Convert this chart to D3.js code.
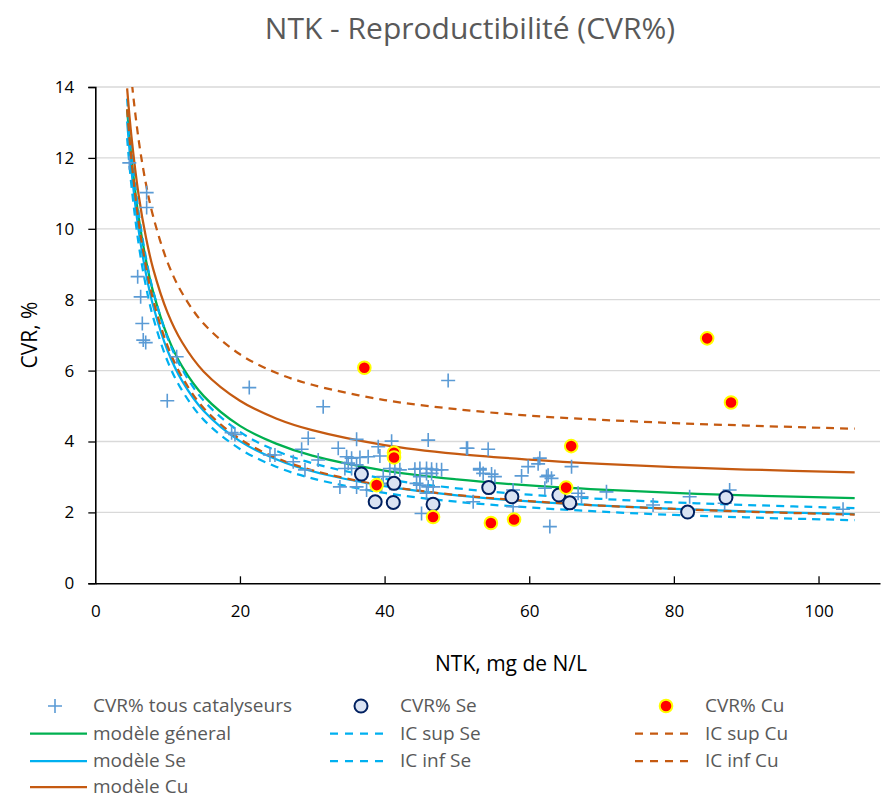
<!DOCTYPE html>
<html><head><meta charset="utf-8">
<script src="https://cdn.jsdelivr.net/npm/d3@7/dist/d3.min.js"></script>
<style>
body{margin:0;background:#fff;}
svg text{font-family:"Open Sans",sans-serif;}
</style></head>
<body><svg id="c" width="884" height="800"></svg>
<script>
// ---- data ----
const title = "NTK - Reproductibilité (CVR%)";
const xTicks = [0,20,40,60,80,100];
const yTicks = [0,2,4,6,8,10,12,14];

// curve sample abscissae (NTK, mg de N/L)
const curveX = [4.4,5,6,7,8,10,12,15,20,25,30,40,50,60,70,80,90,105];
const modeleGeneral = [13.37,12.00,10.32,9.12,8.22,6.96,6.12,5.28,4.44,3.94,3.60,3.18,2.93,2.76,2.64,2.55,2.48,2.40];
const modeleSe      = [13.03,11.65,9.95,8.74,7.83,6.56,5.71,4.86,4.01,3.50,3.16,2.74,2.48,2.31,2.19,2.10,2.03,1.95];
const icSupSe       = [13.67,12.22,10.45,9.19,8.25,6.92,6.04,5.15,4.27,3.74,3.39,2.95,2.68,2.50,2.38,2.28,2.21,2.12];
const icInfSe       = [12.56,11.21,9.56,8.38,7.50,6.26,5.44,4.61,3.79,3.29,2.96,2.55,2.30,2.14,2.02,1.93,1.86,1.78];
const modeleCu      = [13.96,12.60,10.94,9.76,8.87,7.63,6.80,5.97,5.15,4.65,4.32,3.90,3.65,3.49,3.37,3.28,3.21,3.13];
const icSupCu       = [15.64,14.23,12.50,11.27,10.35,9.05,8.19,7.32,6.46,5.94,5.60,5.17,4.91,4.73,4.61,4.52,4.45,4.36];
const icInfCu       = [13.37,11.94,10.19,8.94,8.00,6.69,5.82,4.94,4.07,3.54,3.19,2.75,2.49,2.32,2.19,2.10,2.02,1.94];

// scatter: all catalysts
const tousX = [4.70,7.10,7.10,5.86,6.27,6.50,6.63,6.97,11.25,9.95,21.29,18.85,19.31,24.15,24.84,
  31.51,48.79,29.44,36.13,40.97,46.03,51.47,28.53,30.82,27.37,33.59,39.12,39.35,34.75,35.44,36.59,37.73,
  34.97,36.13,35.44,34.51,33.82,28.99,36.13,37.51,40.73,41.42,42.11,39.81,40.73,39.59,
  44.19,44.88,45.80,46.50,47.19,47.88,44.88,45.80,46.50,44.42,44.88,46.03,46.72,45.80,45.11,52.25,53.17,
  51.33,54.32,53.17,53.63,54.79,55.25,58.94,59.85,61.23,61.46,62.39,62.61,63.08,62.16,62.85,65.85,66.76,67.23,
  57.77,57.77,70.68,77.12,82.18,87.71,87.02,103.39];
const tousY = [11.86,11.02,10.60,8.65,8.08,7.33,6.86,6.79,6.39,5.15,5.52,4.25,4.20,3.62,3.62,
  4.98,5.72,4.09,4.06,4.01,4.04,3.81,3.78,3.48,3.43,3.81,3.85,3.59,3.57,3.53,3.55,3.57,
  3.39,3.34,3.24,3.24,2.72,3.20,2.72,2.63,3.24,3.24,3.20,3.01,2.82,2.77,
  3.22,3.24,3.24,3.22,3.20,3.20,3.01,3.10,3.10,2.82,2.77,2.72,2.72,2.54,1.97,2.30,3.20,
  3.81,3.78,3.24,3.10,3.08,3.01,3.03,3.29,3.37,3.53,3.01,3.05,2.96,2.68,1.60,3.29,2.54,2.44,
  2.63,2.16,2.58,2.21,2.44,2.63,2.26,2.09];

// scatter: Se
const seX = [36.8,41.3,38.7,41.2,46.7,54.4,57.6,64.1,65.6,81.9,87.2];
const seY = [3.08,2.82,2.30,2.28,2.23,2.70,2.44,2.49,2.27,2.01,2.42];
// scatter: Cu
const cuX = [37.2,41.3,41.3,38.9,46.7,65.8,65.1,54.7,57.9,84.6,87.9];
const cuY = [6.08,3.68,3.55,2.77,1.87,3.87,2.70,1.70,1.80,6.91,5.10];

const legendLabels = ["CVR% tous catalyseurs","CVR% Se","CVR% Cu",
  "modèle géneral","IC sup Se","IC sup Cu",
  "modèle Se","IC inf Se","IC inf Cu","modèle Cu"];

// ---- drawing ----
const svg = d3.select("#c");
const L = 95.3, R = 880, T = 87, B = 583.3;
const x = d3.scaleLinear().domain([0,108.5]).range([L,R]);
const y = d3.scaleLinear().domain([0,14]).range([B,T]);

const C = {cross:"#5B9BD5", seFill:"#DAE3F3", seStroke:"#002060", cuFill:"#FF0000", cuStroke:"#FFFF00",
  green:"#00B050", blue:"#00B0F0", orange:"#C55A11", grid:"#D9D9D9", text:"#595959"};

svg.append("text").attr("x",470).attr("y",39).attr("text-anchor","middle")
  .attr("font-size",30).attr("fill",C.text).text(title);

// gridlines
svg.append("g").selectAll("line").data(yTicks.filter(d=>d>0)).join("line")
  .attr("x1",L).attr("x2",R).attr("y1",d=>y(d)).attr("y2",d=>y(d))
  .attr("stroke",C.grid).attr("stroke-width",1.3);

// axes
const yAx = svg.append("g").attr("transform",`translate(${L},0)`)
  .call(d3.axisLeft(y).tickValues(yTicks).tickSize(7).tickPadding(14).tickFormat(d3.format("d")));
const xAx = svg.append("g").attr("transform",`translate(0,${B})`)
  .call(d3.axisBottom(x).tickValues(xTicks).tickSizeInner(-7).tickSizeOuter(0).tickPadding(22).tickFormat(d3.format("d")));
[yAx,xAx].forEach(a=>{
  a.select(".domain").attr("stroke","#000").attr("stroke-width",1.6);
  a.selectAll(".tick line").attr("stroke","#000").attr("stroke-width",1.3);
  a.selectAll(".tick text").attr("font-size",17).attr("fill","#000").attr("font-family","Open Sans");
});
xAx.selectAll(".tick").filter(d=>d===0).select("line").remove();

svg.append("text").attr("x",511).attr("y",671).attr("text-anchor","middle")
  .attr("font-size",21).attr("fill","#000").text("NTK, mg de N/L");
svg.append("text").attr("transform","translate(37,335) rotate(-90)").attr("text-anchor","middle")
  .attr("font-size",21).attr("fill","#000").text("CVR, %");

// clip
svg.append("clipPath").attr("id","pa").append("rect").attr("x",L).attr("y",T).attr("width",R-L).attr("height",B-T);

const line = d3.line().x(d=>x(d[0])).y(d=>y(d[1])).curve(d3.curveCatmullRom.alpha(0.5));
const curves = [
  {v:modeleGeneral,c:C.green,dash:null},
  {v:icSupSe,c:C.blue,dash:"8,6"},
  {v:icSupCu,c:C.orange,dash:"8,6"},
  {v:modeleSe,c:C.blue,dash:null},
  {v:icInfSe,c:C.blue,dash:"8,6"},
  {v:icInfCu,c:C.orange,dash:"8,6"},
  {v:modeleCu,c:C.orange,dash:null},
];
const cg = svg.append("g").attr("clip-path","url(#pa)");
curves.forEach(s=>{
  cg.append("path").datum(curveX.map((d,i)=>[d,s.v[i]])).attr("d",line)
    .attr("fill","none").attr("stroke",s.c).attr("stroke-width",2.25)
    .attr("stroke-dasharray",s.dash);
});

function cross(g,cx,cy){
  g.append("path").attr("d",`M${cx-7},${cy}H${cx+7}M${cx},${cy-7}V${cy+7}`)
   .attr("stroke",C.cross).attr("stroke-width",1.6).attr("fill","none");
}
const mg = svg.append("g");
tousX.forEach((d,i)=>cross(mg,x(d),y(tousY[i])));
mg.append("g").selectAll("circle").data(seX.map((d,i)=>[d,seY[i]])).join("circle")
  .attr("cx",d=>x(d[0])).attr("cy",d=>y(d[1])).attr("r",6.5)
  .attr("fill",C.seFill).attr("stroke",C.seStroke).attr("stroke-width",2);
mg.append("g").selectAll("circle").data(cuX.map((d,i)=>[d,cuY[i]])).join("circle")
  .attr("cx",d=>x(d[0])).attr("cy",d=>y(d[1])).attr("r",6.3)
  .attr("fill",C.cuFill).attr("stroke",C.cuStroke).attr("stroke-width",2);

// legend
const colSym = [[30,87,58],[330,388,361],[635,693,665]];
const colTxt = [93,400,705];
const rowY = [706,733.5,761,787];
const kinds = ["cross","se","cu","green","bluedash","orangedash","blue","bluedash","orangedash","orange"];
const lg = svg.append("g");
legendLabels.forEach((t,i)=>{
  const col = i%3, row = Math.floor(i/3), yy = rowY[row];
  const [x1,x2,xc] = colSym[col], k = kinds[i];
  if(k==="cross") cross(lg,xc-3,yy);
  else if(k==="se") lg.append("circle").attr("cx",xc).attr("cy",yy).attr("r",6.5).attr("fill",C.seFill).attr("stroke",C.seStroke).attr("stroke-width",2);
  else if(k==="cu") lg.append("circle").attr("cx",xc+1).attr("cy",yy).attr("r",6.3).attr("fill",C.cuFill).attr("stroke",C.cuStroke).attr("stroke-width",2);
  else {
    const c = k.startsWith("green")?C.green:k.startsWith("blue")?C.blue:C.orange;
    lg.append("line").attr("x1",x1).attr("x2",x2).attr("y1",yy).attr("y2",yy)
      .attr("stroke",c).attr("stroke-width",2.25).attr("stroke-dasharray",k.endsWith("dash")?"8,7":null);
  }
  lg.append("text").attr("x",colTxt[col]).attr("y",yy).attr("dy","0.34em")
    .attr("font-size",19).attr("fill",C.text).text(t);
});
</script></body></html>
